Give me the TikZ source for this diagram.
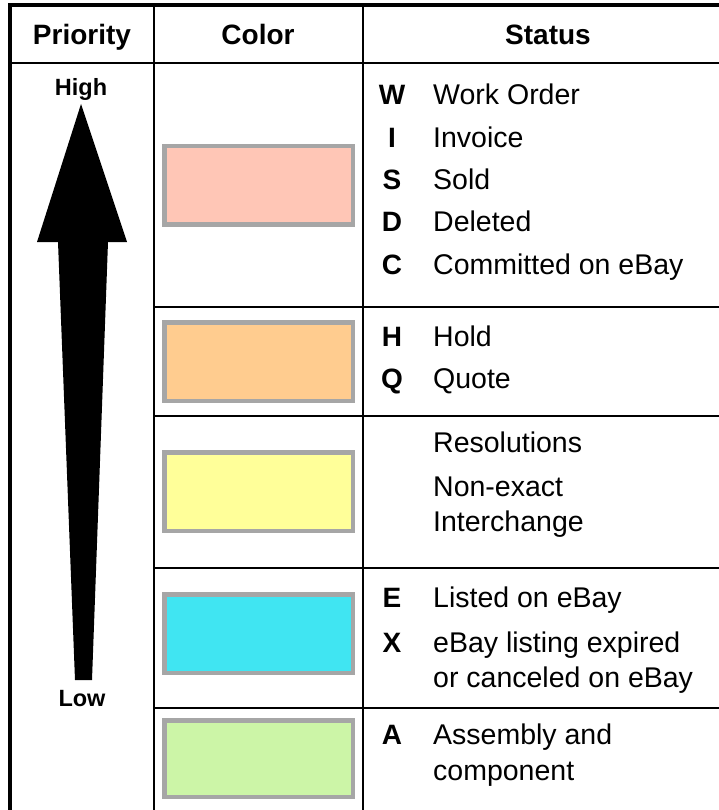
\documentclass[tikz,border=0pt]{standalone}
\usepackage{fontspec}
\setmainfont{Liberation Sans}
\definecolor{cpink}{RGB}{255,198,182}
\definecolor{corange}{RGB}{255,204,143}
\definecolor{cyellow}{RGB}{255,255,153}
\definecolor{ccyan}{RGB}{64,229,242}
\definecolor{cgreen}{RGB}{204,245,167}
\definecolor{cgray}{RGB}{166,166,166}
\begin{document}
\begin{tikzpicture}[x=1pt,y=-1pt,
  outer/.style={line width=4.5pt},
  inner/.style={line width=2.5pt},
  hdr/.style={font=\fontsize{28}{34}\selectfont\bfseries, anchor=base, inner sep=0},
  body/.style={font=\fontsize{28.5}{34}\selectfont, anchor=base west, inner sep=0},
  keyl/.style={font=\fontsize{28}{34}\selectfont\bfseries, anchor=base, inner sep=0},
  lvl/.style={font=\fontsize{23.5}{28}\selectfont\bfseries, anchor=base, inner sep=0},
  swatch/.style={draw=cgray, line width=4.5pt}]
\useasboundingbox (0,0) rectangle (719,810);
\fill[white] (0,0) rectangle (719,810);
% rules
\draw[inner] (10,63) -- (719,63);
\draw[inner] (154,5) -- (154,810);
\draw[inner] (363,5) -- (363,810);
\draw[inner] (154,307) -- (719,307);
\draw[inner] (154,416) -- (719,416);
\draw[inner] (154,568) -- (719,568);
\draw[inner] (154,708) -- (719,708);
\draw[outer] (10,810) -- (10,5) -- (719,5);
% headers
\node[hdr] (hp) at (82,45) {Priority};
\node[hdr] (hc) at (258,45) {Color};
\node[hdr] (hs) at (548,45) {Status};
% arrow
\fill (81,104) -- (127,242) -- (108,242) -- (92,680) -- (75,680) -- (58,242) -- (37,242) -- cycle;
\node[lvl] (hi) at (81,96) {High};
\node[lvl] (lo) at (82,706) {Low};
% swatches
\draw[swatch, fill=cpink] (164.25,146.25) rectangle (352.75,224.75);
\draw[swatch, fill=corange] (164.25,322.25) rectangle (352.75,400.75);
\draw[swatch, fill=cyellow] (164.25,452.25) rectangle (352.75,530.75);
\draw[swatch, fill=ccyan] (164.25,594.25) rectangle (352.75,672.75);
\draw[swatch, fill=cgreen] (164.25,720.25) rectangle (352.75,796.75);
% status
\node[keyl] (kw) at (392,105) {W};
\node[body] (tw) at (433,105) {Work Order};
\node[keyl] (ki) at (392,148) {I};
\node[body] (ti) at (433,148) {Invoice};
\node[keyl] (ks) at (392,190) {S};
\node[body] (ts) at (433,190) {Sold};
\node[keyl] (kd) at (392,232) {D};
\node[body] (td) at (433,232) {Deleted};
\node[keyl] (kc) at (392,274) {C};
\node[body] (tc) at (433,274) {Committed on eBay};
\node[keyl] (kh) at (392,346) {H};
\node[body] (th) at (433,346) {Hold};
\node[keyl] (kq) at (392,388) {Q};
\node[body] (tq) at (433,388) {Quote};
\node[body] (tr) at (433,452) {Resolutions};
\node[body] (tn) at (433,496) {Non-exact};
\node[body] (tn2) at (433,531) {Interchange};
\node[keyl] (ke) at (392,607) {E};
\node[body] (te) at (433,607) {Listed on eBay};
\node[keyl] (kx) at (392,652) {X};
\node[body] (tx) at (433,652) {eBay listing expired};
\node[body] (tx2) at (433,687) {or canceled on eBay};
\node[keyl] (ka) at (392,744) {A};
\node[body] (ta) at (433,744) {Assembly and};
\node[body] (ta2) at (433,780) {component};
\end{tikzpicture}
\end{document}
